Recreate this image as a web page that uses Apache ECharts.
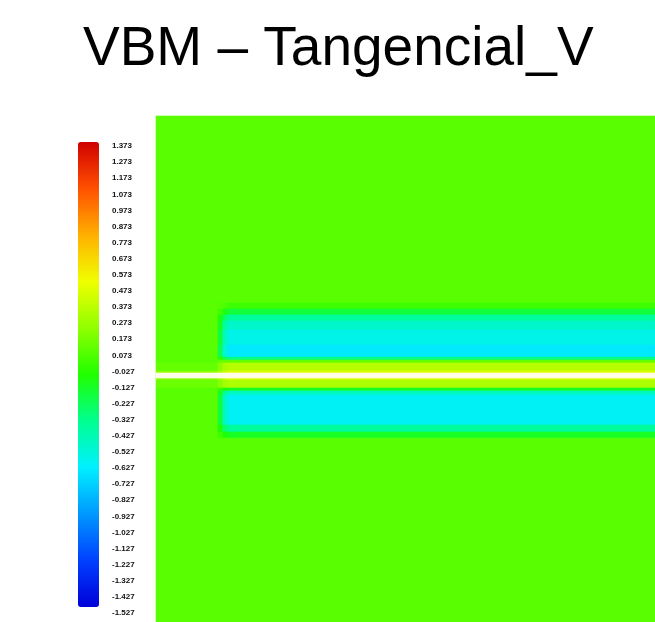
<!DOCTYPE html>
<html>
<head>
<meta charset="utf-8">
<script src="https://cdn.jsdelivr.net/npm/echarts@6/dist/echarts.min.js"></script>
<style>html,body{margin:0;padding:0;background:#fff}#c{width:655px;height:622px}</style>
</head>
<body>
<div id="c"></div>
<script>
// ---- data ----
const title = 'VBM – Tangencial_V';
const legendLabels = ['1.373','1.273','1.173','1.073','0.973','0.873','0.773','0.673','0.573','0.473',
  '0.373','0.273','0.173','0.073','-0.027','-0.127','-0.227','-0.327','-0.427','-0.527',
  '-0.627','-0.727','-0.827','-0.927','-1.027','-1.127','-1.227','-1.327','-1.427','-1.527'];
const valueMin = -1.527;
const valueMax = 1.373;
const colorStops = ['#0000d8','#0040ff','#0098ff','#00f0ff','#00ff90','#20ff00','#90ff00','#f0ff00','#ffb000','#ff5000','#d00000'];
// horizontal stations (streamwise) and radial row edges (top to bottom)
const xEdges = [0, 6.2, 6.7, 7.2, 49.9];
const rowEdges = [25.9, 7.2, 6.6, 6.0, 5.4, 4.5, 3.0, 1.8, 1.5, 1.2, 0.4, 0.2, -0.3, -0.5, -1.3, -1.6, -2.0, -5.0, -5.7, -6.3, -24.7];
const inletProfile   = [0.07, 0.07, 0.07, 0.07, 0.07, 0.07, 0.07, 0.07, 0.07, 0.10, 0.20, 0.30, 0.20, 0.12, 0.07, 0.07, 0.07, 0.07, 0.07, 0.07];
const trans1Profile  = [0.07, 0.06, 0.00, -0.10, -0.15, -0.20, -0.25, -0.05, 0.10, 0.20, 0.30, 0.35, 0.30, 0.20, -0.02, -0.15, -0.20, -0.10, 0.00, 0.07];
const trans2Profile  = [0.07, 0.03, -0.12, -0.30, -0.42, -0.50, -0.55, -0.25, 0.10, 0.30, 0.40, 0.40, 0.40, 0.27, -0.10, -0.40, -0.52, -0.30, -0.10, 0.07];
const devProfile     = [0.07, 0.00, -0.20, -0.40, -0.52, -0.60, -0.68, -0.35, 0.10, 0.33, 0.45, 0.45, 0.45, 0.30, -0.15, -0.50, -0.63, -0.40, -0.15, 0.07];
const centerLine = [[0, 49.9, -0.3, 0.2]];

// ---- build cells ----
const profiles = [inletProfile, trans1Profile, trans2Profile, devProfile];
const cells = [];
for (let c = 0; c < profiles.length; c++) {
  for (let r = 0; r < rowEdges.length - 1; r++) {
    cells.push([xEdges[c], xEdges[c + 1], rowEdges[r + 1], rowEdges[r], profiles[c][r]]);
  }
}

function rectItem(params, api, color) {
  const p0 = api.coord([api.value(0), api.value(3)]);
  const p1 = api.coord([api.value(1), api.value(2)]);
  return {
    type: 'rect',
    shape: { x: p0[0], y: p0[1], width: p1[0] - p0[0], height: p1[1] - p0[1] },
    style: { fill: color || api.visual('color'), stroke: color || api.visual('color'), lineWidth: 0.6 }
  };
}

const chart = echarts.init(document.getElementById('c'), null, { renderer: 'canvas' });
chart.setOption({
  backgroundColor: '#ffffff',
  animation: false,
  title: {
    text: title, left: 78, top: 17,
    textStyle: { fontSize: 55, fontWeight: 'normal', color: '#000', fontFamily: 'Liberation Sans, Arial, sans-serif' }
  },
  grid: [
    { left: 156, top: 116, right: 0, bottom: 0 },
    { left: 100, top: 146, width: 10, height: 467 }
  ],
  xAxis: [
    { type: 'value', gridIndex: 0, min: 0, max: 49.9, show: false },
    { type: 'value', gridIndex: 1, show: false }
  ],
  yAxis: [
    { type: 'value', gridIndex: 0, min: -24.7, max: 25.9, show: false },
    {
      type: 'category', gridIndex: 1, data: legendLabels, inverse: true, boundaryGap: false,
      position: 'right',
      axisLine: { show: false }, axisTick: { show: false }, splitLine: { show: false },
      axisLabel: { interval: 0, fontSize: 8, fontWeight: 'bold', color: '#111', margin: 2, fontFamily: 'Liberation Sans, Arial, sans-serif' }
    }
  ],
  visualMap: {
    type: 'continuous', min: valueMin, max: valueMax, dimension: 4, seriesIndex: 0,
    left: 78, top: 142, itemWidth: 21, itemHeight: 465, padding: 0,
    calculable: false, text: null, hoverLink: false,
    inRange: { color: colorStops }
  },
  graphic: [
    { type: 'text', left: 171, top: 560, style: { text: 'ξ', fontSize: 22, fill: '#111', fontFamily: 'DejaVu Serif' } },
    { type: 'text', left: 201, top: 576, style: { text: 'u', fontSize: 9, fill: '#225500', fontFamily: 'DejaVu Sans' } }
  ],
  series: [
    {
      type: 'custom', xAxisIndex: 0, yAxisIndex: 0, data: cells,
      encode: { x: [0, 1], y: [2, 3] },
      renderItem: function (params, api) { return rectItem(params, api); }
    },
    {
      type: 'custom', xAxisIndex: 0, yAxisIndex: 0, data: centerLine,
      encode: { x: [0, 1], y: [2, 3] },
      renderItem: function (params, api) { return rectItem(params, api, '#fffde8'); }
    }
  ]
});
</script>
</body>
</html>
